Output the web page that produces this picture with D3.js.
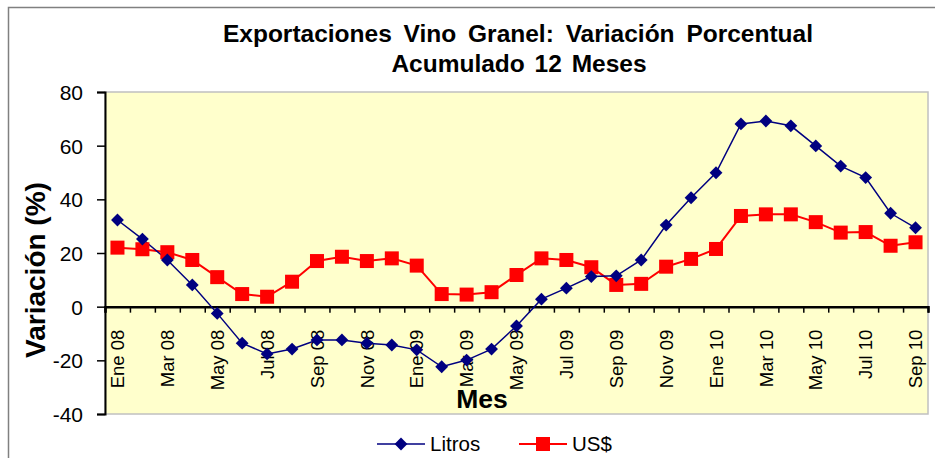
<!DOCTYPE html>
<html>
<head>
<meta charset="utf-8">
<script src="https://cdn.jsdelivr.net/npm/d3@7"></script>
<style>
  body { margin: 0; background: #fff; }
  text { font-family: "Liberation Sans", Arial, sans-serif; }
</style>
</head>
<body>
<div class="chart"></div>
<script>
// data
let meses = ["Ene 08","Feb 08","Mar 08","Abr 08","May 08","Jun 08","Jul 08","Ago 08","Sep 08","Oct 08","Nov 08","Dic 08",
  "Ene 09","Feb 09","Mar 09","Abr 09","May 09","Jun 09","Jul 09","Ago 09","Sep 09","Oct 09","Nov 09","Dic 09",
  "Ene 10","Feb 10","Mar 10","Abr 10","May 10","Jun 10","Jul 10","Ago 10","Sep 10"];
let litros = [32.3, 25.2, 17.4, 8.1, -2.5, -13.6, -17.6, -15.8, -12.4, -12.4, -13.6, -14.3,
  -16.1, -22.4, -19.9, -15.8, -7.2, 2.8, 6.9, 11.2, 11.5, 17.4, 30.4, 40.6,
  49.9, 68.1, 69.2, 67.4, 59.9, 52.4, 48.1, 34.8, 29.4];
let usd = [22.0, 21.4, 20.3, 17.4, 11.0, 4.7, 3.7, 9.3, 17.0, 18.6, 17.0, 18.0,
  15.3, 4.7, 4.5, 5.4, 11.8, 18.0, 17.4, 14.7, 8.1, 8.5, 14.9, 17.8,
  21.5, 33.8, 34.4, 34.4, 31.5, 27.6, 27.8, 22.7, 24.0];
let yTicks = [-40, -20, 0, 20, 40, 60, 80];

let svgWidth = 935;
let svgHeight = 458;
let margin = { top: 92, right: 7, bottom: 44, left: 105 };
let width = svgWidth - margin.left - margin.right;
let height = svgHeight - margin.top - margin.bottom;

let svg = d3.select(".chart")
  .append("svg")
  .attr("width", svgWidth)
  .attr("height", svgHeight);

// outer frame
svg.append("rect")
  .attr("x", 8.5).attr("y", 7.5)
  .attr("width", 940).attr("height", 460)
  .attr("fill", "none")
  .attr("stroke", "#808080")
  .attr("stroke-width", 1.5);

let chartGroup = svg.append("g")
  .attr("transform", `translate(${margin.left}, ${margin.top})`);

let xBand = d3.scaleBand().domain(meses).range([0, width]);
let xPos = d => xBand(d) + xBand.bandwidth() / 2;
let xIdx = d3.scaleLinear().domain([0, meses.length]).range([0, width]);
let y = d3.scaleLinear().domain([-40, 80]).range([height, 0]);

// plot area
chartGroup.append("rect")
  .attr("width", width).attr("height", height)
  .attr("fill", "#FFFFCC")
  .attr("stroke", "#C0C0C0")
  .attr("stroke-width", 1.5);

// y axis
let leftAxis = d3.axisLeft(y).tickValues(yTicks).tickSize(8).tickPadding(14).tickFormat(d => String(d));
let yAxisG = chartGroup.append("g").call(leftAxis);
yAxisG.select(".domain").attr("stroke", "#000").attr("stroke-width", 2);
yAxisG.selectAll(".tick line").attr("stroke", "#000").attr("stroke-width", 1.5);
yAxisG.selectAll(".tick text")
  .attr("font-size", "21px")
  .attr("fill", "#000")
  .attr("dy", "0.36em");

// x axis at zero: ticks between months
let tickAxis = d3.axisBottom(xIdx).tickValues(d3.range(0, meses.length + 1)).tickSize(6).tickFormat("");
let xAxisG = chartGroup.append("g")
  .attr("transform", `translate(0, ${y(0)})`)
  .call(tickAxis);
xAxisG.select(".domain").attr("stroke", "#000").attr("stroke-width", 2.5);
xAxisG.selectAll(".tick line").attr("stroke", "#000").attr("stroke-width", 1.5);

// month labels, every second month
let labelAxis = d3.axisBottom(xBand)
  .tickValues(meses.filter((d, i) => i % 2 === 0))
  .tickSize(0);
let labG = chartGroup.append("g")
  .attr("transform", `translate(0, ${y(0)})`)
  .call(labelAxis);
labG.select(".domain").remove();
labG.selectAll(".tick text")
  .attr("font-size", "18.5px")
  .attr("fill", "#000")
  .attr("transform", "rotate(-90)")
  .attr("text-anchor", "end")
  .attr("x", -23)
  .attr("y", 0)
  .attr("dy", "0.36em");

// lines
let line = d3.line()
  .x((d, i) => xPos(meses[i]))
  .y(d => y(d));

chartGroup.append("path")
  .datum(usd)
  .attr("d", line)
  .attr("fill", "none")
  .attr("stroke", "#FF0000")
  .attr("stroke-width", 2);

chartGroup.append("path")
  .datum(litros)
  .attr("d", line)
  .attr("fill", "none")
  .attr("stroke", "#000080")
  .attr("stroke-width", 1.5);

let sq = 14;
chartGroup.selectAll(".sq")
  .data(usd)
  .enter()
  .append("rect")
  .attr("x", (d, i) => xPos(meses[i]) - sq / 2)
  .attr("y", d => y(d) - sq / 2)
  .attr("width", sq).attr("height", sq)
  .attr("fill", "#FF0000");

let diamond = d3.symbol().type(d3.symbolDiamond2).size(105);
chartGroup.selectAll(".dm")
  .data(litros)
  .enter()
  .append("path")
  .attr("d", diamond)
  .attr("transform", (d, i) => `translate(${xPos(meses[i])}, ${y(d)})`)
  .attr("fill", "#000080");

// titles
svg.append("text")
  .attr("x", 518).attr("y", 42)
  .attr("text-anchor", "middle")
  .attr("font-size", "24.5px")
  .attr("font-weight", "bold")
  .attr("word-spacing", "5px")
  .text("Exportaciones Vino Granel: Variación Porcentual");
svg.append("text")
  .attr("x", 519).attr("y", 72)
  .attr("text-anchor", "middle")
  .attr("font-size", "24.5px")
  .attr("font-weight", "bold")
  .attr("word-spacing", "3px")
  .text("Acumulado 12 Meses");

svg.append("text")
  .attr("transform", "translate(45, 270) rotate(-90)")
  .attr("text-anchor", "middle")
  .attr("font-size", "28px")
  .attr("font-weight", "bold")
  .text("Variación (%)");

svg.append("text")
  .attr("x", 482).attr("y", 408)
  .attr("text-anchor", "middle")
  .attr("font-size", "26.5px")
  .attr("font-weight", "bold")
  .text("Mes");

// legend
let legend = svg.append("g").attr("transform", "translate(0, 444)");
legend.append("line").attr("x1", 377).attr("x2", 425).attr("stroke", "#000080").attr("stroke-width", 1.5);
legend.append("path").attr("d", diamond).attr("transform", "translate(401, 0)").attr("fill", "#000080");
legend.append("text").attr("x", 430).attr("dy", "0.36em").attr("font-size", "20.5px").text("Litros");
legend.append("line").attr("x1", 519).attr("x2", 567).attr("stroke", "#FF0000").attr("stroke-width", 2);
legend.append("rect").attr("x", 536).attr("y", -7).attr("width", 14).attr("height", 14).attr("fill", "#FF0000");
legend.append("text").attr("x", 572).attr("dy", "0.36em").attr("font-size", "20.5px").text("US$");
</script>
</body>
</html>
